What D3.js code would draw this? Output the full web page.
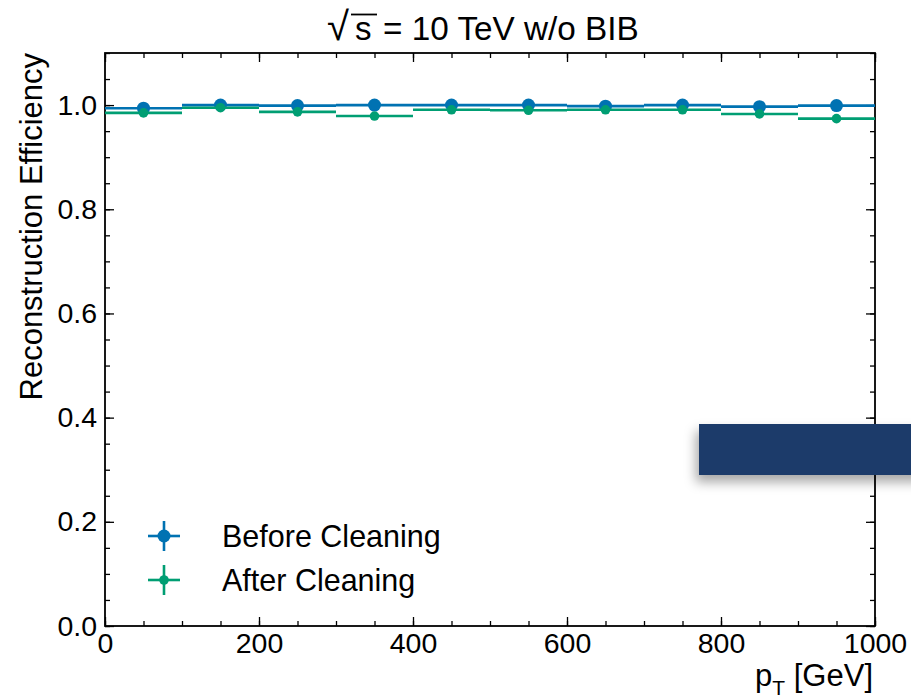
<!DOCTYPE html>
<html>
<head>
<meta charset="utf-8">
<script src="https://cdn.jsdelivr.net/npm/d3@7"></script>
<style>
  html, body { margin: 0; padding: 0; background: #fff; }
  svg { display: block; }
  text { font-family: "Liberation Sans", Arial, Helvetica, sans-serif; fill: #000; }
</style>
</head>
<body>
<svg id="chart" width="911" height="699"></svg>
<script>
// ---- data ----
const binEdges = [0, 100, 200, 300, 400, 500, 600, 700, 800, 900, 1000];
const beforeCleaning = [0.994, 1.000, 0.999, 1.000, 1.000, 1.000, 0.998, 1.000, 0.997, 0.999];
const afterCleaning  = [0.985, 0.995, 0.987, 0.979, 0.991, 0.990, 0.991, 0.991, 0.983, 0.974];
const seriesNames = ["Before Cleaning", "After Cleaning"];
const xTicks = [0, 200, 400, 600, 800, 1000];
const yTicks = [0.0, 0.2, 0.4, 0.6, 0.8, 1.0];
const titleRadical = "√";
const titleVar = "s";
const titleRest = "= 10 TeV w/o BIB";

const colors = ["#0072B2", "#009E73"];
const radii = [6.5, 4.8];

const W = 911, H = 699;
const L = 105, R = 875, T = 53, B = 626;
const svg = d3.select("#chart");
const defs = svg.append("defs");

const x = d3.scaleLinear().domain([0, 1000]).range([L, R]);
const y = d3.scaleLinear().domain([0, 1.1]).range([B, T]);

const tickFont = 28.5;

// ---- axes (ticks inward on all sides) ----
function xAxisG(axis, ty) {
  return svg.append("g").attr("transform", `translate(0,${ty})`).call(axis)
    .call(g => g.select(".domain").remove());
}
const xMinor = d3.range(0, 1001, 50);
const yMinor = d3.range(0, 1.1001, 0.05);

// bottom
xAxisG(d3.axisBottom(x).tickValues(xTicks).tickSize(-9).tickPadding(7).tickFormat(d3.format("d")), B)
  .call(g => g.selectAll("text").attr("font-size", tickFont).attr("dy", "0.71em"));
xAxisG(d3.axisBottom(x).tickValues(xMinor).tickSize(-5).tickFormat(""), B);
// top
xAxisG(d3.axisTop(x).tickValues(xTicks).tickSize(-9).tickFormat(""), T);
xAxisG(d3.axisTop(x).tickValues(xMinor).tickSize(-5).tickFormat(""), T);
// left
svg.append("g").attr("transform", `translate(${L},0)`)
  .call(d3.axisLeft(y).tickValues(yTicks).tickSize(-9).tickPadding(8).tickFormat(d3.format(".1f")))
  .call(g => g.select(".domain").remove())
  .call(g => g.selectAll("text").attr("font-size", tickFont));
svg.append("g").attr("transform", `translate(${L},0)`)
  .call(d3.axisLeft(y).tickValues(yMinor).tickSize(-5).tickFormat(""))
  .call(g => g.select(".domain").remove());
// right
svg.append("g").attr("transform", `translate(${R},0)`)
  .call(d3.axisRight(y).tickValues(yTicks).tickSize(-9).tickFormat(""))
  .call(g => g.select(".domain").remove());
svg.append("g").attr("transform", `translate(${R},0)`)
  .call(d3.axisRight(y).tickValues(yMinor).tickSize(-5).tickFormat(""))
  .call(g => g.select(".domain").remove());

svg.selectAll(".tick line").attr("stroke", "#000").attr("stroke-width", 1.3);

// frame
svg.append("rect").attr("x", L).attr("y", T).attr("width", R - L).attr("height", B - T)
  .attr("fill", "none").attr("stroke", "#000").attr("stroke-width", 1.8);

// ---- data series ----
const series = [beforeCleaning, afterCleaning];
series.forEach((vals, si) => {
  const g = svg.append("g");
  const pts = vals.map((v, i) => ({ x0: binEdges[i], x1: binEdges[i + 1], v }));
  g.selectAll("line.h").data(pts).join("line")
    .attr("x1", d => x(d.x0)).attr("x2", d => x(d.x1))
    .attr("y1", d => y(d.v)).attr("y2", d => y(d.v))
    .attr("stroke", colors[si]).attr("stroke-width", 2.6);
  g.selectAll("circle").data(pts).join("circle")
    .attr("cx", d => x((d.x0 + d.x1) / 2)).attr("cy", d => y(d.v))
    .attr("r", radii[si]).attr("fill", colors[si]);
});

// ---- legend ----
const legX = 164, legY = [536, 580], legText = 222;
seriesNames.forEach((name, i) => {
  const g = svg.append("g");
  g.append("line").attr("x1", legX - 16).attr("x2", legX + 16).attr("y1", legY[i]).attr("y2", legY[i])
    .attr("stroke", colors[i]).attr("stroke-width", 2.6);
  g.append("line").attr("x1", legX).attr("x2", legX).attr("y1", legY[i] - 15).attr("y2", legY[i] + 15)
    .attr("stroke", colors[i]).attr("stroke-width", 2.6);
  g.append("circle").attr("cx", legX).attr("cy", legY[i]).attr("r", radii[i]).attr("fill", colors[i]);
  g.append("text").attr("x", legText).attr("y", legY[i] + 11).attr("font-size", 30.5).text(name);
});

// ---- axis labels ----
svg.append("text").attr("transform", `translate(42,${T}) rotate(-90)`)
  .attr("text-anchor", "end").attr("font-size", 31).text("Reconstruction Efficiency");

const xl = svg.append("text").attr("x", R - 2).attr("y", 686).attr("text-anchor", "end").attr("font-size", 31);
xl.append("tspan").text("p");
xl.append("tspan").attr("font-size", 21).attr("dy", 9).text("T");
xl.append("tspan").attr("dy", -9).text(" [GeV]");

// ---- title ----
svg.append("text").attr("x", 327).attr("y", 40).attr("font-size", 40).attr("font-weight", 300).text(titleRadical);
svg.append("text").attr("x", 355).attr("y", 40).attr("font-size", 33).text(titleVar);
svg.append("line").attr("x1", 351).attr("x2", 377).attr("y1", 14.5).attr("y2", 14.5)
  .attr("stroke", "#000").attr("stroke-width", 1.8);
svg.append("text").attr("x", 383).attr("y", 40).attr("font-size", 33.3).text(titleRest);

// ---- overlay banner (dark box at right) ----
const f = defs.append("filter").attr("id", "shadow").attr("x", "-20%").attr("y", "-40%").attr("width", "140%").attr("height", "200%");
f.append("feDropShadow").attr("dx", -3).attr("dy", 7).attr("stdDeviation", 6)
  .attr("flood-color", "#000").attr("flood-opacity", 0.35);
svg.append("rect").attr("x", 699).attr("y", 424).attr("width", 230).attr("height", 51)
  .attr("fill", "#1f3b6b").attr("filter", "url(#shadow)");
</script>
</body>
</html>
